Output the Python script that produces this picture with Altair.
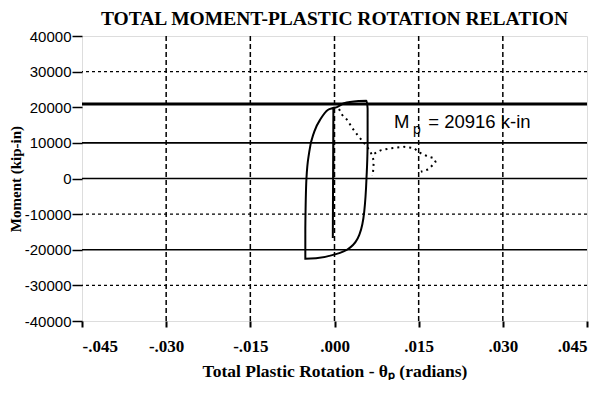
import altair as alt
import pandas as pd

# ---- data ----
# main (solid) hysteresis path, in drawing order
loop_x = [-0.0002, -0.0002, -0.0003, -0.0002, -0.0002, 0.0002, 0.0017, 0.0044, 0.0057,
          0.0059, 0.0059, 0.0057, 0.0053, 0.0044, 0.0026, -0.0004, -0.0033, -0.0052,
          -0.0052, -0.0050, -0.0045, -0.0036, -0.0024, -0.0012, -0.0004, 0.0002]
loop_m = [0, 19000, -16700, 19600, 19800, 19900, 21100, 21750, 21850,
          19700, 9400, 0, -9300, -15900, -19600, -21500, -22400, -22500,
          -14000, 0, 7500, 13150, 16900, 19240, 19720, 19900]

# dotted curve: two pieces
dot_a_x = [0.0008, 0.0014, 0.0023, 0.0032, 0.0041, 0.0053, 0.0064, 0.0070, 0.0069, 0.0068]
dot_a_m = [19500, 17800, 16400, 14100, 12200, 9900, 7600, 5000, 2500, 700]
dot_b_x = [0.0071, 0.0082, 0.0100, 0.0124, 0.0142, 0.0151, 0.0166, 0.0177, 0.0180, 0.0168, 0.0154]
dot_b_m = [7000, 7900, 8500, 8900, 8500, 7300, 6200, 5700, 4700, 2600, 1900]

mp_value = 20916
x_ticks = [-0.045, -0.030, -0.015, 0.0, 0.015, 0.030, 0.045]
x_grid = [-0.030, -0.015, 0.0, 0.015, 0.030]
y_ticks = [-40000, -30000, -20000, -10000, 0, 10000, 20000, 30000, 40000]
y_grid_solid = [10000, 0, -20000]
y_grid_dotted = [30000, -10000, -30000]

# annotation "Mp = 20916 k-in": main text, subscript
ann_main = [("M", 0.0106, 14150), ("= 20916 k-in", 0.0167, 14150)]
ann_sub = [("p", 0.0140, 12500)]

# ---- tables ----
loop_df = pd.DataFrame({"x": loop_x, "m": loop_m, "i": range(len(loop_x))})
dot_df = pd.concat([
    pd.DataFrame({"x": dot_a_x, "m": dot_a_m, "i": range(len(dot_a_x)), "seg": "a"}),
    pd.DataFrame({"x": dot_b_x, "m": dot_b_m, "i": range(len(dot_b_x)), "seg": "b"}),
])
vgrid_df = pd.DataFrame({"x": x_grid})
hs_df = pd.DataFrame({"m": y_grid_solid})
hd_df = pd.DataFrame({"m": y_grid_dotted})
mp_df = pd.DataFrame({"m": [mp_value]})
ann_main_df = pd.DataFrame(ann_main, columns=["t", "x", "m"])
ann_sub_df = pd.DataFrame(ann_sub, columns=["t", "x", "m"])

xs = alt.Scale(domain=[-0.045, 0.045], nice=False, zero=False)
ys = alt.Scale(domain=[-40000, 40000], nice=False, zero=False)

x_axis = alt.Axis(
    values=x_ticks, grid=False, domain=False,
    labelExpr="replace(replace(format(datum.value, '.3f'), '0.', '.'), '\u2212', '-')",
    labelFont="Liberation Serif", labelFontSize=17, labelFontWeight="bold", labelColor="black",
    labelPadding=11, tickColor="black", tickSize=6, tickWidth=2,
    title="Total Plastic Rotation - \u03b8\u209a (radians)", titleFont="Liberation Serif",
    titleFontSize=17.5, titleFontWeight="bold", titleColor="black", titlePadding=8,
)
y_axis = alt.Axis(
    values=y_ticks, grid=False, domain=False,
    labelExpr="'' + datum.value",
    labelFont="Liberation Sans", labelFontSize=15, labelColor="black", labelPadding=1,
    tickColor="black", tickSize=10, tickWidth=1.5,
    title="Moment (kip-in)", titleFont="Liberation Serif", titleFontSize=15,
    titleFontWeight="bold", titleColor="black", titlePadding=1,
)

X = lambda: alt.X("x:Q", scale=xs, axis=x_axis)
Y = lambda: alt.Y("m:Q", scale=ys, axis=y_axis)

vgrid = alt.Chart(vgrid_df).mark_rule(color="black", strokeWidth=1.5, strokeDash=[5, 3]).encode(x=X())
hsolid = alt.Chart(hs_df).mark_rule(color="black", strokeWidth=1.6).encode(y=Y())
hdot = alt.Chart(hd_df).mark_rule(color="black", strokeWidth=1.3, strokeDash=[3, 3]).encode(y=Y())
mp = alt.Chart(mp_df).mark_rule(color="black", strokeWidth=3).encode(y=Y())

loop = alt.Chart(loop_df).mark_line(color="black", strokeWidth=2, interpolate="monotone").encode(
    x=X(), y=Y(), order="i:Q")
dots = alt.Chart(dot_df).mark_line(color="black", strokeWidth=2, strokeDash=[2, 4]).encode(
    x=X(), y=Y(), order="i:Q", detail="seg:N")

ann1 = alt.Chart(ann_main_df).mark_text(align="left", baseline="alphabetic", font="Liberation Sans",
                                        fontSize=18.5, color="black", fill="black").encode(
    x=X(), y=Y(), text="t:N")
ann2 = alt.Chart(ann_sub_df).mark_text(align="left", baseline="alphabetic", font="Liberation Sans",
                                       fontSize=14, color="black", fill="black").encode(
    x=X(), y=Y(), text="t:N")

chart = alt.layer(vgrid, hsolid, hdot, mp, loop, dots, ann1, ann2).properties(
    width=505, height=285, padding=0,
    title=alt.TitleParams("TOTAL MOMENT-PLASTIC ROTATION RELATION", font="Liberation Serif",
                          fontSize=19.5, fontWeight="bold", color="black", anchor="middle", offset=0),
).configure_view(stroke="black", strokeWidth=3).configure(background="white")

chart.save("out.html", embed_options={"renderer": "svg", "actions": False})
